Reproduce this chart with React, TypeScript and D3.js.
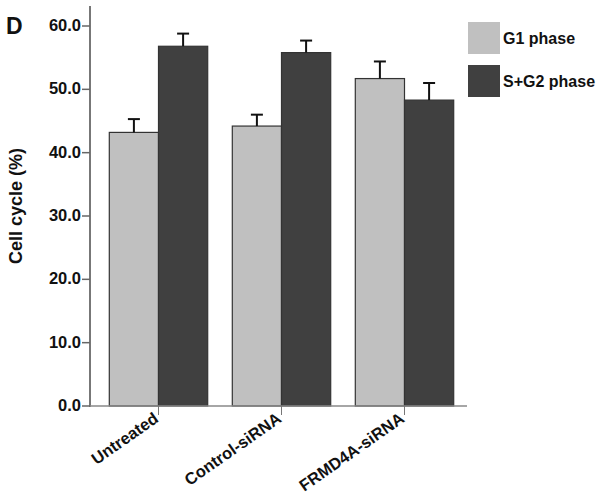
import React from "react";
import * as d3 from "d3";

const categories = ["Untreated", "Control-siRNA", "FRMD4A-siRNA"];
const seriesNames = ["G1 phase", "S+G2 phase"];
const g1Values = [43.2, 44.2, 51.7];
const g1Errors = [2.1, 1.8, 2.7];
const sg2Values = [56.8, 55.8, 48.3];
const sg2Errors = [2.0, 1.9, 2.7];
const yTicks = [0, 10, 20, 30, 40, 50, 60];
const colors = ["#c0c0c0", "#404040"];

export default function App() {
  const W = 602, H = 495;
  const axisX = 90;
  const x0 = d3.scaleBand<string>().domain(categories).range([97, 466]).paddingInner(0.2).paddingOuter(0.1);
  const x1 = d3.scaleBand<string>().domain(seriesNames).range([0, x0.bandwidth()]);
  const y = d3.scaleLinear().domain([0, 60]).range([406, 26]);
  const font = "Arial, 'Liberation Sans', Helvetica, sans-serif";
  const series = [
    { name: seriesNames[0], vals: g1Values, errs: g1Errors, color: colors[0] },
    { name: seriesNames[1], vals: sg2Values, errs: sg2Errors, color: colors[1] },
  ];
  return (
    <svg width={W} height={H} style={{ position: "absolute", left: 0, top: 0, background: "#fff" }} fontFamily={font}>
      <text x={6} y={34} fontSize={23} fontWeight="bold" fill="#111">D</text>
      {/* bars */}
      {series.map((s) =>
        categories.map((c, i) => {
          const bx = (x0(c) as number) + (x1(s.name) as number);
          const bw = x1.bandwidth();
          const top = y(s.vals[i]);
          const errTop = y(s.vals[i] + s.errs[i]);
          const cx = bx + bw / 2;
          return (
            <g key={s.name + c}>
              <rect x={bx} y={top} width={bw} height={y(0) - top} fill={s.color} stroke="#333" strokeWidth={1.2} />
              <line x1={cx} x2={cx} y1={top} y2={errTop} stroke="#111" strokeWidth={2} />
              <line x1={cx - 6} x2={cx + 6} y1={errTop} y2={errTop} stroke="#111" strokeWidth={2} />
            </g>
          );
        })
      )}
      {/* y axis */}
      <line x1={axisX} x2={axisX} y1={6} y2={407} stroke="#777" strokeWidth={2} />
      {yTicks.map((t) => (
        <g key={t}>
          <line x1={axisX - 8} x2={axisX} y1={y(t)} y2={y(t)} stroke="#666" strokeWidth={1.5} />
          <text x={axisX - 9} y={y(t) + 5} textAnchor="end" fontSize={16.5} fontWeight="bold" fill="#111">{t.toFixed(1)}</text>
        </g>
      ))}
      {/* x axis */}
      <line x1={axisX} x2={467} y1={406} y2={406} stroke="#888" strokeWidth={1.5} />
      {categories.map((c) => {
        const cx = (x0(c) as number) + x0.bandwidth() / 2;
        return (
          <g key={c}>
            <line x1={cx} x2={cx} y1={406} y2={415} stroke="#777" strokeWidth={1} />
            <text transform={`translate(${cx + 1},${421}) rotate(-35)`} textAnchor="end" fontSize={16.5} fontWeight="bold" fill="#111">{c}</text>
          </g>
        );
      })}
      {/* y label */}
      <text transform={`translate(22,${206}) rotate(-90)`} textAnchor="middle" fontSize={18} fontWeight="bold" fill="#111">Cell cycle (%)</text>
      {/* legend */}
      {series.map((s, i) => (
        <g key={s.name}>
          <rect x={468} y={22 + i * 43} width={32} height={32} fill={s.color} />
          <text x={503} y={44 + i * 43} fontSize={16} fontWeight="bold" fill="#111">{s.name}</text>
        </g>
      ))}
    </svg>
  );
}
